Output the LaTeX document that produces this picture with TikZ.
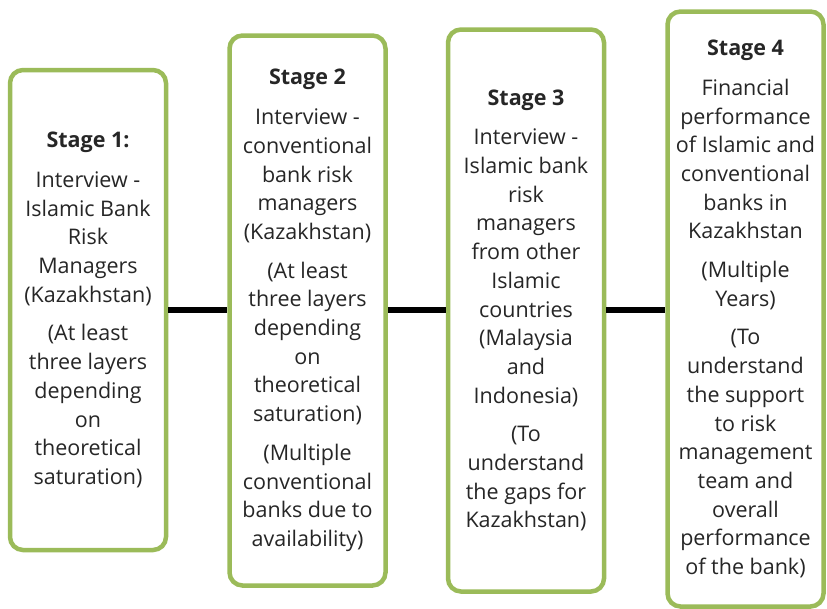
\documentclass[tikz,border=0pt]{standalone}
\usepackage{fontspec}
\setmainfont{Open Sans}
\definecolor{stagegreen}{HTML}{9BBB59}
\definecolor{ink}{HTML}{262626}
\begin{document}
\begin{tikzpicture}[x=1pt,y=-1pt,
  stagebox/.style={draw=stagegreen, line width=4.5pt, rounded corners=13pt,
    fill=white, minimum width=156pt, align=center, text=ink,
    font=\fontsize{21.5}{28.7}\selectfont, inner sep=0pt},
  link/.style={line width=6pt, black}]
\useasboundingbox (0,0) rectangle (827,608);

\node[stagebox, minimum height=480pt] (s1) at (88,310)
  {\textbf{Stage 1:}\\[11pt]
   Interview -\\ Islamic Bank\\ Risk\\ Managers\\ (Kazakhstan)\\[10pt]
   (At least\\ three layers\\ depending\\ on\\ theoretical\\ saturation)};

\node[stagebox, minimum height=550pt] (s2) at (307.5,310.5)
  {\textbf{Stage 2}\\[11pt]
   Interview -\\ conventional\\ bank risk\\ managers\\ (Kazakhstan)\\[10pt]
   (At least\\ three layers\\ depending\\ on\\ theoretical\\ saturation)\\[10pt]
   (Multiple\\ conventional\\ banks due to\\ availability)};

\node[stagebox, minimum height=562pt] (s3) at (526,310.5)
  {\textbf{Stage 3}\\[11pt]
   Interview -\\ Islamic bank\\ risk\\ managers\\ from other\\ Islamic\\ countries\\ (Malaysia\\ and\\ Indonesia)\\[10pt]
   (To\\ understand\\ the gaps for\\ Kazakhstan)};

\node[stagebox, minimum height=595pt] (s4) at (745.5,309)
  {\textbf{Stage 4}\\[11pt]
   Financial\\ performance\\ of Islamic and\\ conventional\\ banks in\\ Kazakhstan\\[10pt]
   (Multiple\\ Years)\\[10pt]
   (To\\ understand\\ the support\\ to risk\\ management\\ team and\\ overall\\ performance\\ of the bank)};

\draw[link] (s1.east) -- (s2.west |- s1.east);
\draw[link] (s2.east |- s1.east) -- (s3.west |- s1.east);
\draw[link] (s3.east |- s1.east) -- (s4.west |- s1.east);
\end{tikzpicture}
\end{document}
